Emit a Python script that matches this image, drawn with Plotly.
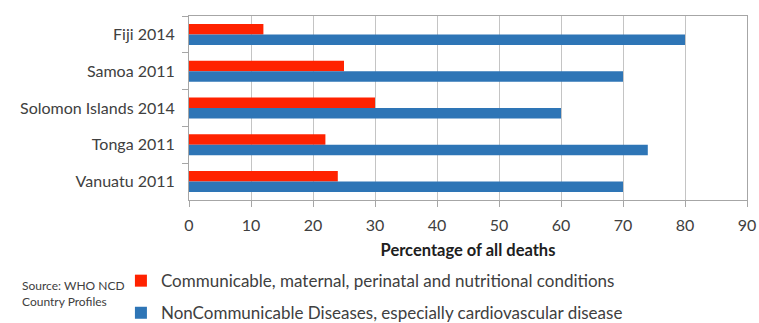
import plotly.graph_objects as go

categories = ["Fiji 2014", "Samoa 2011", "Solomon Islands 2014", "Tonga 2011", "Vanuatu 2011"]
communicable = [12, 25, 30, 22, 24]
noncommunicable = [80, 70, 60, 74, 70]
series_names = [
    "Communicable, maternal, perinatal and nutritional conditions",
    "NonCommunicable Diseases, especially cardiovascular disease",
]
x_ticks = [0, 10, 20, 30, 40, 50, 60, 70, 80, 90]

FONT = "Lato"
TXT = "#404040"

fig = go.Figure()
fig.add_trace(go.Bar(y=categories, x=communicable, orientation="h", name=series_names[0],
                     marker=dict(color="#FF2200", line=dict(width=0)), legendgroup="a"))
fig.add_trace(go.Bar(y=categories, x=noncommunicable, orientation="h", name=series_names[1],
                     marker=dict(color="#2E75B6", line=dict(width=0)), legendgroup="b"))

fig.update_layout(
    width=759, height=323,
    margin=dict(l=189, r=12, t=16, b=123, autoexpand=False),
    paper_bgcolor="white", plot_bgcolor="white",
    barmode="group", bargap=0.43, bargroupgap=0,
    font=dict(family=FONT, color=TXT, size=16),
    showlegend=True,
    legend=dict(x=-0.122, xanchor="left", y=-0.343, yanchor="top", orientation="v",
                font=dict(size=17, color=TXT), tracegroupgap=7,
                itemwidth=30, bgcolor="rgba(0,0,0,0)"),
    xaxis=dict(range=[0, 90], tickvals=x_ticks, showgrid=True, gridcolor="#C4C4C4", gridwidth=1,
               ticks="outside", ticklen=6, tickcolor="#A6A6A6", showline=True, linecolor="#A6A6A6",
               mirror=True, zeroline=False, tickfont=dict(size=16, color=TXT), automargin=False,
               ticklabelstandoff=5,
               title=dict(text="<b>Percentage of all deaths</b>", font=dict(size=16.5, color="#202020"), standoff=11)),
    yaxis=dict(autorange="reversed", ticks="outside", ticklen=6, tickcolor="#A6A6A6", tickson="boundaries",
               showline=True, linecolor="#A6A6A6", mirror=True, showgrid=False, automargin=False,
               ticklabelstandoff=10, tickfont=dict(size=16, color=TXT)),
)

fig.add_annotation(text="Source: WHO NCD<br>Country Profiles", xref="paper", yref="paper",
                   x=-0.303, y=-0.413, xanchor="left", yanchor="top", showarrow=False, align="left",
                   font=dict(size=12, color=TXT, family=FONT))

fig.write_html("out.html", config={"displayModeBar": False},
               post_script="document.body.style.margin='0';")
